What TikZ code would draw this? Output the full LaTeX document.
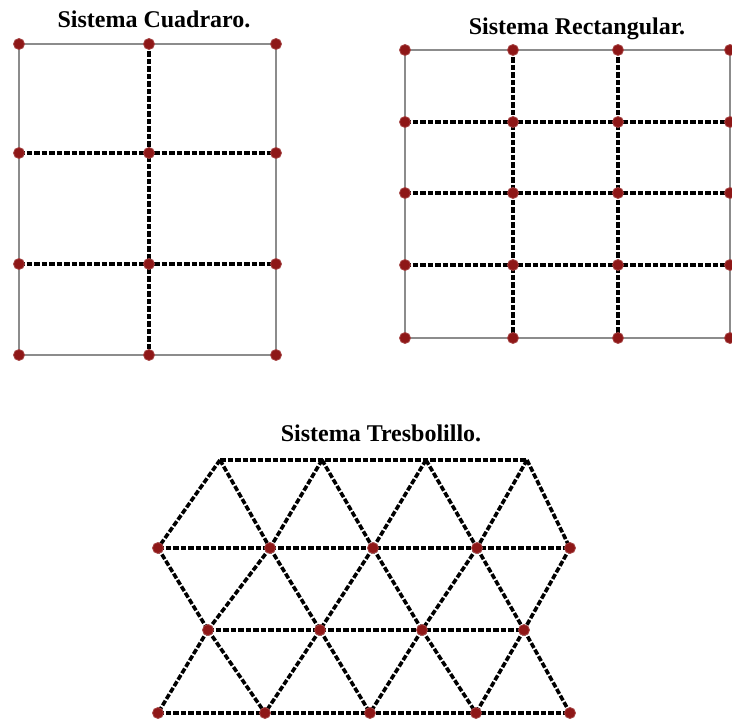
\documentclass[tikz,border=0pt]{standalone}
\usepackage{fontspec}
\setmainfont{Liberation Serif}
\definecolor{dotred}{HTML}{8E1717}
\definecolor{linegray}{HTML}{8C8C8C}
\tikzset{
  solidedge/.style={draw=linegray, line width=2pt},
  dashedge/.style={draw=black, line width=3.6pt, dash pattern=on 5.5pt off 2pt},
  plantdot/.style={circle, fill=dotred, draw=dotred!80!white, line width=0.8pt, minimum size=11pt, inner sep=0pt},
  title/.style={font=\bfseries\fontsize{24}{28}\selectfont, anchor=base, inner sep=0pt}
}
\begin{document}
\begin{tikzpicture}[x=1pt,y=-1pt]
\useasboundingbox (0,0) rectangle (732,722);
% titles
\node[title] (t1) at (154,28) {Sistema Cuadraro.};
\node[title] (t2) at (577,35) {Sistema Rectangular.};
\node[title] (t3) at (381,442) {Sistema Tresbolillo.};
% ---------- square system
\foreach \x [count=\i] in {19,149,276}
  \foreach \y [count=\j] in {44,153,264,355}
    \coordinate (s\i\j) at (\x,\y);
\draw[solidedge] (s11) -- (s31) -- (s34) -- (s14) -- cycle;
\draw[dashedge] (s21) -- (s24);
\draw[dashedge] (s12) -- (s32);
\draw[dashedge] (s13) -- (s33);
\foreach \i in {1,2,3}
  \foreach \j in {1,2,3,4}
    \node[plantdot] (sd\i\j) at (s\i\j) {};
% ---------- rectangular system
\foreach \x [count=\i] in {405,513,618,730}
  \foreach \y [count=\j] in {50,122,193,265,338}
    \coordinate (r\i\j) at (\x,\y);
\draw[solidedge] (r11) -- (r41) -- (r45) -- (r15) -- cycle;
\draw[dashedge] (r21) -- (r25);
\draw[dashedge] (r31) -- (r35);
\draw[dashedge] (r12) -- (r42);
\draw[dashedge] (r13) -- (r43);
\draw[dashedge] (r14) -- (r44);
\foreach \i in {1,2,3,4}
  \foreach \j in {1,2,3,4,5}
    \node[plantdot] (rd\i\j) at (r\i\j) {};
% ---------- tresbolillo
\coordinate (T1) at (220,460);
\coordinate (T2) at (322,460);
\coordinate (T3) at (426,460);
\coordinate (T4) at (527,460);
\coordinate (A0) at (158,548);
\coordinate (A1) at (270,548);
\coordinate (A2) at (373,548);
\coordinate (A3) at (477,548);
\coordinate (A4) at (570,548);
\coordinate (B1) at (208,630);
\coordinate (B2) at (320,630);
\coordinate (B3) at (422,630);
\coordinate (B4) at (524,630);
\coordinate (C0) at (158,713);
\coordinate (C1) at (265,713);
\coordinate (C2) at (370,713);
\coordinate (C3) at (476,713);
\coordinate (C4) at (570,713);
\draw[dashedge] (T1) -- (T4);
\draw[dashedge] (A0) -- (A4);
\draw[dashedge] (B1) -- (B4);
\draw[dashedge] (C0) -- (C4);
\draw[dashedge] (T1) -- (A0) (T1) -- (A1) (T2) -- (A1) (T2) -- (A2)
                (T3) -- (A2) (T3) -- (A3) (T4) -- (A3) (T4) -- (A4);
\draw[dashedge] (A0) -- (B1) (A1) -- (B1) (A1) -- (B2) (A2) -- (B2)
                (A2) -- (B3) (A3) -- (B3) (A3) -- (B4) (A4) -- (B4);
\draw[dashedge] (B1) -- (C0) (B1) -- (C1) (B2) -- (C1) (B2) -- (C2)
                (B3) -- (C2) (B3) -- (C3) (B4) -- (C3) (B4) -- (C4);
\foreach \p in {A0,A1,A2,A3,A4,B1,B2,B3,B4,C0,C1,C2,C3,C4}
  \node[plantdot] (d\p) at (\p) {};
\end{tikzpicture}
\end{document}
